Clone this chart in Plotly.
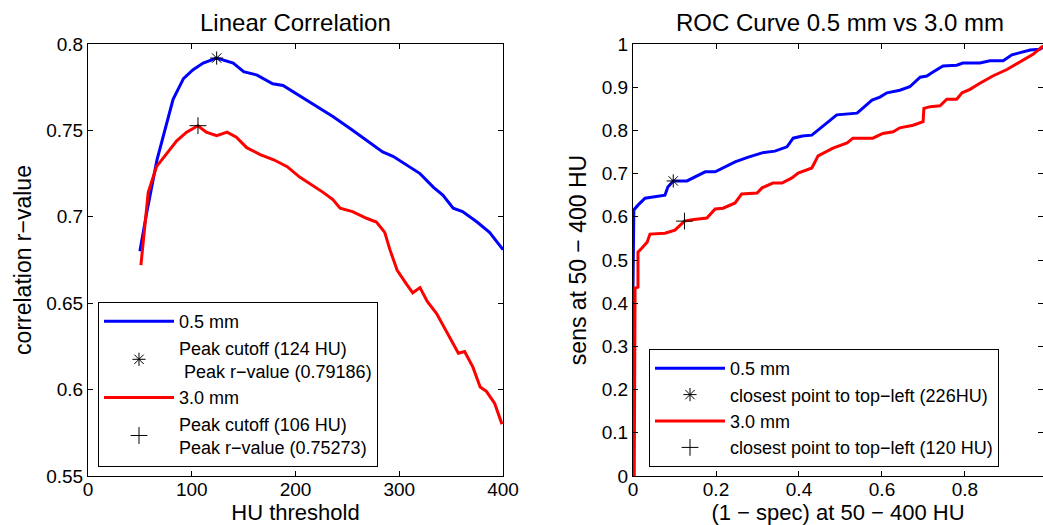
import plotly.graph_objects as go

# ---------------- data ----------------
hu_05 = [50, 56.5, 66.5, 76, 82, 92, 101, 111, 124, 140, 150, 163, 178, 188, 204, 220, 236, 253,
         272, 284, 294, 304, 320, 333, 342, 352, 361, 375, 387, 400]
r_05 = [0.680, 0.702, 0.733, 0.754, 0.768, 0.780, 0.785, 0.789, 0.7918, 0.789, 0.784, 0.782, 0.777,
        0.776, 0.770, 0.764, 0.758, 0.751, 0.743, 0.7375, 0.735, 0.731, 0.725, 0.717, 0.7126, 0.705,
        0.703, 0.697, 0.691, 0.681]

hu_30 = [51, 58, 66, 76, 85.5, 95, 106, 114, 124, 134, 143, 153, 166, 179, 192, 204, 217, 227, 236,
         243, 255, 269, 278, 286, 291, 298, 307, 313, 320, 327, 336, 349, 357, 363, 371, 378, 384, 392, 399]
r_30 = [0.672, 0.714, 0.729, 0.737, 0.744, 0.749, 0.7527, 0.749, 0.747, 0.749, 0.746, 0.740, 0.736,
        0.733, 0.729, 0.723, 0.718, 0.714, 0.710, 0.705, 0.703, 0.699, 0.697, 0.691, 0.681, 0.669,
        0.661, 0.656, 0.659, 0.651, 0.644, 0.630, 0.621, 0.622, 0.613, 0.6015, 0.599, 0.592, 0.580]

peak_05 = (124, 0.79186)
peak_30 = (106, 0.75273)

fpr_05 = [0, 0, 0.002, 0.012, 0.029, 0.053, 0.077, 0.084, 0.097, 0.130, 0.157, 0.174, 0.198, 0.222,
          0.246, 0.278, 0.311, 0.342, 0.371, 0.386, 0.408, 0.431, 0.451, 0.467, 0.491, 0.540, 0.554,
          0.576, 0.595, 0.612, 0.643, 0.667, 0.692, 0.708, 0.723, 0.747, 0.780, 0.795, 0.836, 0.860,
          0.892, 0.913, 0.933, 0.957, 0.980, 1.0]
tpr_05 = [0, 0.437, 0.616, 0.627, 0.643, 0.646, 0.650, 0.669, 0.683, 0.683, 0.697, 0.704, 0.704, 0.715,
          0.727, 0.738, 0.748, 0.752, 0.762, 0.782, 0.787, 0.789, 0.805, 0.817, 0.836, 0.840, 0.851,
          0.870, 0.877, 0.887, 0.893, 0.901, 0.923, 0.926, 0.935, 0.949, 0.951, 0.956, 0.956, 0.961,
          0.961, 0.975, 0.980, 0.986, 0.988, 1.0]

fpr_30 = [0.003, 0.005, 0.012, 0.012, 0.021, 0.034, 0.041, 0.077, 0.101, 0.124, 0.142, 0.178, 0.198,
          0.217, 0.246, 0.262, 0.299, 0.311, 0.337, 0.359, 0.383, 0.398, 0.431, 0.446, 0.482, 0.516,
          0.530, 0.578, 0.602, 0.627, 0.643, 0.675, 0.699, 0.701, 0.716, 0.740, 0.756, 0.780, 0.793,
          0.812, 0.836, 0.867, 0.901, 0.933, 0.964, 0.985, 1.0]
tpr_30 = [0, 0.435, 0.437, 0.518, 0.527, 0.541, 0.560, 0.562, 0.569, 0.590, 0.593, 0.597, 0.618,
          0.620, 0.632, 0.653, 0.655, 0.667, 0.678, 0.678, 0.690, 0.701, 0.713, 0.741, 0.759, 0.771,
          0.782, 0.782, 0.793, 0.797, 0.806, 0.812, 0.820, 0.851, 0.855, 0.857, 0.872, 0.872, 0.887,
          0.895, 0.909, 0.926, 0.941, 0.959, 0.976, 0.993, 1.0]

best_05 = (0.097, 0.683)
best_30 = (0.124, 0.590)

left_ticks_x = [0, 100, 200, 300, 400]
left_ticks_y = [0.55, 0.6, 0.65, 0.7, 0.75, 0.8]
right_ticks_x = [0, 0.2, 0.4, 0.6, 0.8]
right_ticks_y = [0, 0.1, 0.2, 0.3, 0.4, 0.5, 0.6, 0.7, 0.8, 0.9, 1]

BLUE = "#0000ff"
RED = "#ff0000"
FONT = "Liberation Sans, Arial, sans-serif"

fig = go.Figure()

# ---- left subplot ----
fig.add_trace(go.Scatter(x=hu_05, y=r_05, mode="lines", line=dict(color=BLUE, width=3),
                         name="0.5 mm", xaxis="x", yaxis="y", legend="legend"))
fig.add_trace(go.Scatter(x=[peak_05[0]], y=[peak_05[1]], mode="markers",
                         marker=dict(symbol="asterisk-open", size=11, color="black",
                                     line=dict(color="black", width=1)),
                         name="Peak cutoff (124 HU)<br> Peak r−value (0.79186)",
                         xaxis="x", yaxis="y", legend="legend"))
fig.add_trace(go.Scatter(x=hu_30, y=r_30, mode="lines", line=dict(color=RED, width=3),
                         name="3.0 mm", xaxis="x", yaxis="y", legend="legend"))
fig.add_trace(go.Scatter(x=[peak_30[0]], y=[peak_30[1]], mode="markers",
                         marker=dict(symbol="cross-thin-open", size=12, color="black",
                                     line=dict(color="black", width=1)),
                         name="Peak cutoff (106 HU)<br>Peak r−value (0.75273)",
                         xaxis="x", yaxis="y", legend="legend"))

# ---- right subplot ----
fig.add_trace(go.Scatter(x=fpr_05, y=tpr_05, mode="lines", line=dict(color=BLUE, width=3),
                         name="0.5 mm", xaxis="x2", yaxis="y2", legend="legend2"))
fig.add_trace(go.Scatter(x=[best_05[0]], y=[best_05[1]], mode="markers",
                         marker=dict(symbol="asterisk-open", size=11, color="black",
                                     line=dict(color="black", width=1)),
                         name="closest point to top−left (226HU)",
                         xaxis="x2", yaxis="y2", legend="legend2"))
fig.add_trace(go.Scatter(x=fpr_30, y=tpr_30, mode="lines", line=dict(color=RED, width=3),
                         name="3.0 mm", xaxis="x2", yaxis="y2", legend="legend2"))
fig.add_trace(go.Scatter(x=[best_30[0]], y=[best_30[1]], mode="markers",
                         marker=dict(symbol="cross-thin-open", size=12, color="black",
                                     line=dict(color="black", width=1)),
                         name="closest point to top−left (120 HU)",
                         xaxis="x2", yaxis="y2", legend="legend2"))

axis_common = dict(showline=True, linecolor="black", linewidth=1, mirror="ticks",
                   ticks="inside", ticklen=5, tickcolor="black", showgrid=False,
                   zeroline=False, tickfont=dict(family=FONT, size=19, color="black"))

W, H = 1043, 525
ML, MR, MT, MB = 88, 0, 44, 49
pw = W - ML - MR
left_end = (503 - ML) / pw
right_start = (633 - ML) / pw

legend_common = dict(bgcolor="white", bordercolor="black", borderwidth=1,
                     font=dict(family=FONT, size=18, color="black"),
                     itemwidth=70, tracegroupgap=0, xanchor="left", yanchor="bottom")

fig.update_layout(
    width=W, height=H,
    margin=dict(l=ML, r=MR, t=MT, b=MB, autoexpand=False),
    paper_bgcolor="white", plot_bgcolor="white",
    font=dict(family=FONT, size=19, color="black"),
    xaxis=dict(domain=[0, left_end], range=[0, 400], tickvals=left_ticks_x, ticklabelstandoff=-4,
               title=dict(text="HU threshold", font=dict(size=22), standoff=5), **axis_common),
    yaxis=dict(domain=[0, 1], range=[0.55, 0.8], tickvals=left_ticks_y,
               title=dict(text="correlation r−value", font=dict(size=23), standoff=8), **axis_common),
    xaxis2=dict(domain=[right_start, 1], range=[0, 0.988], tickvals=right_ticks_x, anchor="y2",
                ticklabelstandoff=-4,
                title=dict(text="(1 − spec) at 50 − 400 HU", font=dict(size=22), standoff=5), **axis_common),
    yaxis2=dict(domain=[0, 1], range=[0, 1], tickvals=right_ticks_y, anchor="x2",
                title=dict(text="sens at 50 − 400 HU", font=dict(size=23), standoff=8), **axis_common),
    legend=dict(x=(98 - ML) / pw, y=(476 - 467) / 432, **legend_common),
    legend2=dict(x=(649 - ML) / pw, y=(476 - 467) / 432, **legend_common),
    annotations=[
        dict(text="Linear Correlation", x=left_end / 2, y=1 + 22 / 432, xref="paper", yref="paper",
             showarrow=False, xanchor="center", yanchor="middle",
             font=dict(family=FONT, size=24, color="black")),
        dict(text="ROC Curve 0.5 mm vs 3.0 mm", x=(right_start + (1048 - ML) / pw) / 2, y=1 + 22 / 432,
             xref="paper", yref="paper", showarrow=False, xanchor="center", yanchor="middle",
             font=dict(family=FONT, size=24, color="black")),
    ],
)

fig.write_html("out.html")
